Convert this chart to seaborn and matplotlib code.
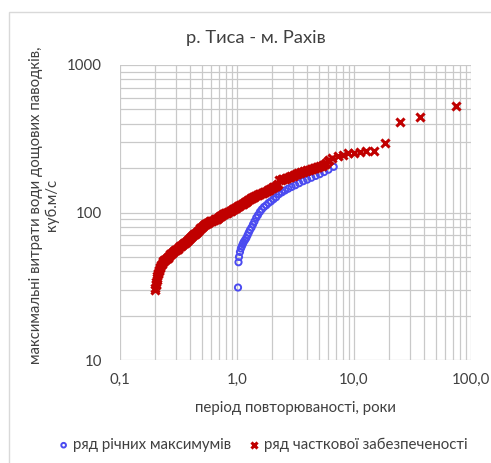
import matplotlib
matplotlib.use("Agg")
import matplotlib.pyplot as plt
import seaborn as sns
import pandas as pd
from matplotlib.ticker import FixedLocator, FixedFormatter, LogLocator, NullFormatter
from matplotlib.patches import Rectangle

# ---- data ----
annual_T = [1.02, 1.03, 1.04, 1.06, 1.08, 1.10, 1.12, 1.14, 1.17, 1.20, 1.23, 1.26,
            1.29, 1.33, 1.37, 1.41, 1.46, 1.51, 1.57, 1.63, 1.70, 1.78, 1.86, 1.95,
            2.05, 2.16, 2.28, 2.42, 2.57, 2.74, 2.93, 3.15, 3.40, 3.68, 3.98, 4.32,
            4.70, 5.10, 5.55, 6.05, 6.70]
annual_Q = [31, 46, 50, 54, 57, 59, 61, 63, 65, 67, 70, 73,
            76, 79, 83, 87, 92, 96, 101, 105, 109, 112, 116, 119,
            123, 127, 133, 137, 141, 145, 149, 153, 158, 163, 167, 172,
            177, 182, 188, 195, 204]

partial_T = [0.200, 0.201, 0.202, 0.203, 0.205, 0.206, 0.208, 0.209, 0.211, 0.212,
             0.214, 0.216, 0.219, 0.221, 0.224, 0.227, 0.231, 0.234, 0.238, 0.242,
             0.246, 0.250, 0.255, 0.259, 0.264, 0.268, 0.273, 0.278, 0.283, 0.288,
             0.294, 0.299, 0.305, 0.311, 0.317, 0.323, 0.330, 0.336, 0.343, 0.350,
             0.357, 0.364, 0.371, 0.379, 0.386, 0.394, 0.402, 0.410, 0.418, 0.427,
             0.436, 0.445, 0.454, 0.463, 0.472, 0.482, 0.492, 0.502, 0.512, 0.523,
             0.534, 0.545, 0.556, 0.568, 0.580, 0.592, 0.604, 0.617, 0.630, 0.643,
             0.656, 0.670, 0.685, 0.699, 0.714, 0.729, 0.744, 0.760, 0.776, 0.793,
             0.810, 0.827, 0.845, 0.863, 0.881, 0.900, 0.920, 0.940, 0.960, 0.980,
             1.00, 1.02, 1.045, 1.07, 1.095, 1.12, 1.145, 1.17, 1.195, 1.22,
             1.25, 1.28, 1.31, 1.34, 1.37, 1.40, 1.435, 1.47, 1.505, 1.54,
             1.58, 1.62, 1.66, 1.70, 1.745, 1.79, 1.835, 1.88, 1.93, 1.98,
             2.03, 2.08, 2.135, 2.19, 2.25, 2.30, 2.36, 2.42, 2.485, 2.55,
             2.62, 2.69, 2.765, 2.84, 2.92, 3.00, 3.085, 3.17, 3.26, 3.35,
             3.45, 3.55, 3.66, 3.77, 3.88, 4.00, 4.12, 4.25, 4.38, 4.52,
             4.66, 4.81, 4.96, 5.12, 5.28, 5.45, 5.62, 5.80, 5.95, 6.10,
             6.45, 7.35, 8.1, 8.9, 10.0, 11.2, 12.7, 14.8, 18.5, 24.8, 36.9, 74.0]
partial_Q = [30, 31, 32, 33, 34, 35, 36, 37, 38, 39,
             40, 41, 42, 43, 44, 45, 46, 47, 47.5, 48,
             48.5, 49, 49.5, 50, 51, 52, 52.5, 53, 54, 55,
             55.5, 56, 56.5, 57, 58, 59, 59.5, 60, 61, 62,
             62.5, 63, 64, 65, 66, 67, 68, 69, 70, 71,
             72, 73, 74, 75, 76.5, 78, 79, 80, 81, 82,
             83, 84, 84.5, 85, 86, 87, 87.5, 88, 89, 90,
             90.5, 91, 92, 93, 94, 95, 96, 97, 98, 99,
             99.5, 100, 101, 102, 103, 104, 105, 106, 107, 108,
             109, 110, 111, 112, 113.5, 115, 116, 117, 118.5, 120,
             121.5, 123, 124.5, 126, 127, 128, 129.5, 131, 132, 133,
             134, 135, 136, 137, 138.5, 140, 141.5, 143, 145, 147,
             148.5, 150, 151.5, 153, 155, 165, 166.5, 168, 169, 170,
             171, 172, 173.5, 175, 176.5, 178, 180, 182, 183.5, 185,
             186.5, 188, 189.5, 191, 192.5, 194, 195.5, 197, 198.5, 200,
             201.5, 203, 204.5, 206, 208, 211, 214, 218, 222, 227,
             233, 241, 245, 252, 254, 258, 262, 262, 297, 412, 442, 527]

x_ticks = [0.1, 1.0, 10.0, 100.0]
x_tick_labels = ["0,1", "1,0", "10,0", "100,0"]
y_ticks = [10, 100, 1000]
y_tick_labels = ["10", "100", "1000"]

title = "р. Тиса - м. Рахів"
x_label = "період повторюваності, роки"
y_label = "максимальні витрати води дощових паводків,\nкуб.м/с"
series_names = ["ряд річних максимумів", "ряд часткової забезпеченості"]

# ---- plot ----
sns.set_theme(style="white")
plt.rcParams['font.family'] = ['Lato', 'DejaVu Sans']

W, H = 491, 463
fig = plt.figure(figsize=(W / 100, H / 100), dpi=100)
ax = fig.add_axes([120 / W, 1 - 360 / H, (471 - 120) / W, (360 - 65) / H])

df_a = pd.DataFrame({"T": annual_T, "Q": annual_Q})
df_p = pd.DataFrame({"T": partial_T, "Q": partial_Q})

blue = "#4b4bf0"
red = "#c00000"
txt = "#404040"

sns.scatterplot(data=df_a, x="T", y="Q", ax=ax, marker="o", s=20,
                facecolors="none", edgecolor=blue, linewidth=1.4,
                label=series_names[0], zorder=3)
sns.scatterplot(data=df_p, x="T", y="Q", ax=ax, marker="x", s=34,
                color=red, linewidth=2.2, label=series_names[1], zorder=4)

ax.set_xscale("log")
ax.set_yscale("log")
ax.set_xlim(0.1, 100)
ax.set_ylim(10, 1000)

ax.xaxis.set_major_locator(FixedLocator(x_ticks))
ax.xaxis.set_major_formatter(FixedFormatter(x_tick_labels))
ax.yaxis.set_major_locator(FixedLocator(y_ticks))
ax.yaxis.set_major_formatter(FixedFormatter(y_tick_labels))
ax.xaxis.set_minor_locator(LogLocator(base=10, subs=range(2, 10)))
ax.yaxis.set_minor_locator(LogLocator(base=10, subs=range(2, 10)))
ax.xaxis.set_minor_formatter(NullFormatter())
ax.yaxis.set_minor_formatter(NullFormatter())

grid_c = "#c9c9c9"
ax.grid(True, which="both", color=grid_c, linewidth=0.9)
ax.set_axisbelow(True)
for s in ax.spines.values():
    s.set_visible(False)
ax.tick_params(axis="both", which="both", length=0, labelsize=10.8,
               labelcolor=txt)
ax.tick_params(axis="x", pad=9)
ax.tick_params(axis="y", pad=13)

ax.set_xlabel("")
ax.set_ylabel("")
ax.get_legend().remove()

fig.text(295 / W, 1 - 408 / H, x_label, ha="center", va="center",
         fontsize=10.8, color=txt)
fig.text(44 / W, 1 - 205 / H, y_label, ha="center", va="center",
         rotation=90, fontsize=10.8, color=txt, multialignment="center",
         linespacing=1.1)
fig.text(256 / W, 1 - 38 / H, title, ha="center", va="center",
         fontsize=13.2, color=txt)

handles, labels = ax.get_legend_handles_labels()
fig.legend(handles, labels, loc="center", bbox_to_anchor=(261 / W, 1 - 445 / H),
           ncol=2, frameon=False, fontsize=10.8, handletextpad=0.05,
           columnspacing=0.9, markerscale=0.75, labelcolor=txt,
           handlelength=1.2)

fig.add_artist(Rectangle((9 / W, -0.1), 1.2, 1 - 12 / H + 0.1,
                         transform=fig.transFigure, fill=False,
                         edgecolor="#d9d9d9", linewidth=1.0))

fig.savefig("out.png", dpi=100)
